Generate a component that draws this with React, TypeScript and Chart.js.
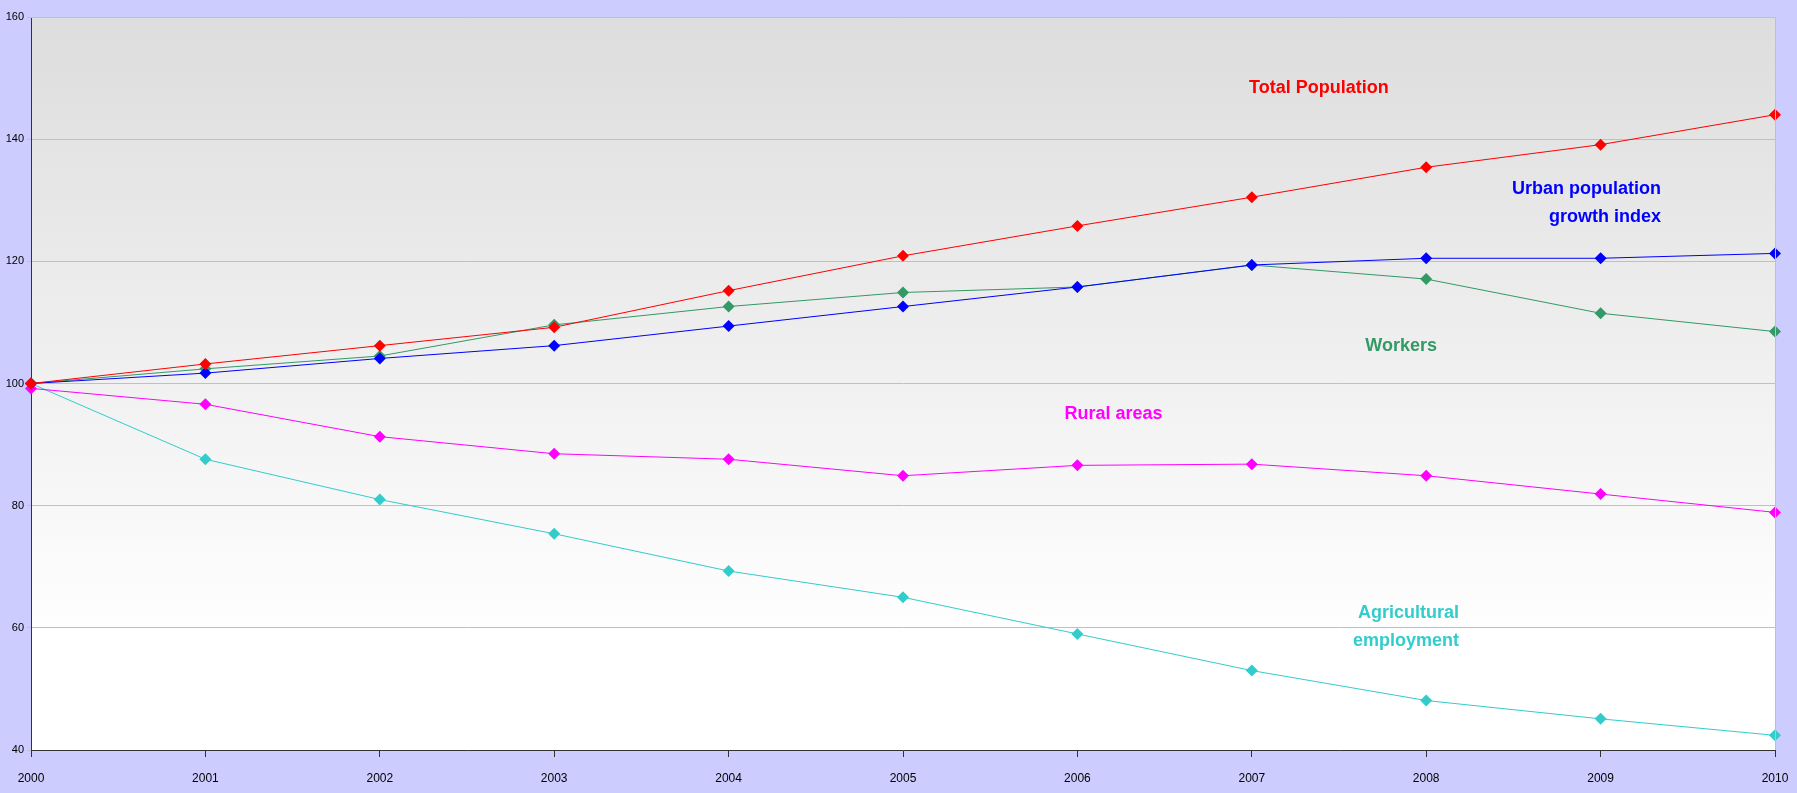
import React, { useEffect, useRef } from "react";
import { Chart, registerables } from "chart.js";

Chart.register(...registerables);

const categories = ["2000", "2001", "2002", "2003", "2004", "2005", "2006", "2007", "2008", "2009", "2010"];

const seriesNames = ["Total Population", "Urban population", "Workers", "Rural areas", "Agricultural employment"];
const seriesColors = ["#FF0000", "#0000FF", "#339966", "#FF00FF", "#33CCCC"];

const redValues = [100, 103.2, 106.2, 109.2, 115.2, 120.9, 125.8, 130.5, 135.4, 139.1, 144.0];
const blueValues = [100, 101.7, 104.1, 106.2, 109.4, 112.6, 115.8, 119.4, 120.5, 120.5, 121.3];
const greenValues = [100, 102.4, 104.5, 109.6, 112.6, 114.9, 115.8, 119.4, 117.1, 111.5, 108.5];
const magentaValues = [99.2, 96.6, 91.3, 88.5, 87.6, 84.9, 86.6, 86.8, 84.9, 81.9, 78.9];
const cyanValues = [100, 87.6, 81.0, 75.4, 69.3, 65.0, 59.0, 53.0, 48.1, 45.1, 42.4];

const yTicks = [40, 60, 80, 100, 120, 140, 160];

// series label annotations (text lines, anchor in data coordinates)
const labelLines = [["Total Population"], ["Urban population", "growth index"], ["Workers"], ["Rural areas"], ["Agricultural", "employment"]];
const labelX = [7.385, 9.346, 7.856, 6.207, 8.188];
const labelY = [148.4, 129.5, 106.1, 95.0, 60.2];
const labelAlign = ["center", "right", "center", "center", "right"];

const allValues = [redValues, blueValues, greenValues, magentaValues, cyanValues];

const bgPlugin = {
  id: "plotBg",
  beforeDraw(chart: any) {
    const { ctx, chartArea } = chart;
    if (!chartArea) return;
    const g = ctx.createLinearGradient(0, chartArea.top, 0, chartArea.bottom);
    g.addColorStop(0, "#DDDDDD");
    g.addColorStop(0.85, "#FFFFFF");
    g.addColorStop(1, "#FFFFFF");
    ctx.save();
    ctx.fillStyle = g;
    ctx.fillRect(chartArea.left, chartArea.top, chartArea.right - chartArea.left, chartArea.bottom - chartArea.top);
    ctx.restore();
  },
  afterDraw(chart: any) {
    const { ctx, chartArea } = chart;
    ctx.save();
    ctx.strokeStyle = "#C0C0C0";
    ctx.lineWidth = 1;
    ctx.beginPath();
    ctx.moveTo(chartArea.left, chartArea.top + 0.5);
    ctx.lineTo(chartArea.right + 0.5, chartArea.top + 0.5);
    ctx.lineTo(chartArea.right + 0.5, chartArea.bottom);
    ctx.stroke();
    ctx.restore();
  },
};

const labelPlugin = {
  id: "seriesLabels",
  afterDatasetsDraw(chart: any) {
    const { ctx, scales } = chart;
    ctx.save();
    ctx.font = "bold 18px 'Liberation Sans', Arial, sans-serif";
    ctx.textBaseline = "middle";
    labelLines.forEach((lines, i) => {
      const x = scales.x.getPixelForValue(labelX[i]);
      const yc = scales.y.getPixelForValue(labelY[i]);
      const lh = 28;
      const y0 = yc - ((lines.length - 1) * lh) / 2;
      ctx.fillStyle = seriesColors[i];
      ctx.textAlign = labelAlign[i] as CanvasTextAlign;
      lines.forEach((ln, j) => ctx.fillText(ln, x, y0 + j * lh));
    });
    ctx.restore();
  },
};

export default function App() {
  const ref = useRef<HTMLCanvasElement>(null);
  useEffect(() => {
    if (!ref.current) return;
    const chart = new Chart(ref.current, {
      type: "line",
      data: {
        labels: categories,
        datasets: allValues.map((vals, i) => ({
          label: seriesNames[i],
          data: vals,
          borderColor: seriesColors[i],
          backgroundColor: seriesColors[i],
          borderWidth: 1,
          pointStyle: "rectRot",
          pointRadius: 6,
          pointBorderWidth: 0,
          tension: 0,
          clip: false as any,
        })),
      },
      options: {
        animation: false,
        responsive: false,
        maintainAspectRatio: false,
        layout: { padding: { top: 17, right: 22, left: 0, bottom: 0 } },
        plugins: { legend: { display: false }, tooltip: { enabled: false } },
        scales: {
          x: {
            type: "category",
            offset: false,
            grid: { drawOnChartArea: false, drawTicks: true, tickLength: 7, color: "#333333" },
            border: { color: "#333333", width: 1 },
            ticks: { color: "#000", font: { size: 12, family: "'Liberation Sans', Arial, sans-serif" }, padding: 14, maxRotation: 0, autoSkip: false },
            afterFit(scale: any) {
              scale.height = 43;
              scale.paddingRight = 0;
              scale.paddingLeft = 0;
            },
          },
          y: {
            min: 40,
            max: 160,
            afterBuildTicks(scale: any) { scale.ticks = yTicks.map((v) => ({ value: v })); },
            grid: { color: "#C0C0C0", drawTicks: true, tickLength: 4 },
            border: { color: "#333333", width: 1 },
            ticks: { color: "#000", font: { size: 11, family: "'Liberation Sans', Arial, sans-serif" }, padding: 3 },
            afterFit(scale: any) {
              scale.width = 31;
              scale.paddingTop = 0;
              scale.paddingBottom = 0;
            },
          },
        },
      },
      plugins: [bgPlugin, labelPlugin],
    });
    return () => chart.destroy();
  }, []);
  return (
    <div style={{ position: "fixed", left: 0, top: 0, width: 1797, height: 793, background: "#CCCCFF" }}>
      <canvas ref={ref} width={1797} height={793} style={{ display: "block" }} />
    </div>
  );
}
